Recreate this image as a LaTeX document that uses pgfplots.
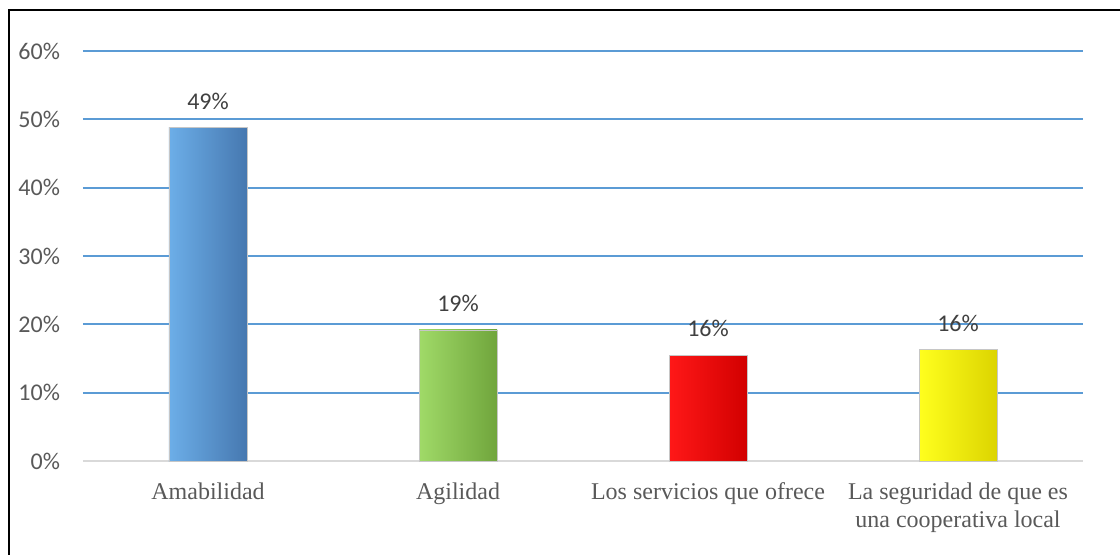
\documentclass[border=0pt]{standalone}
\usepackage{pgfplots}
\pgfplotsset{compat=1.18}
\usepackage{fontspec}
\setmainfont{Liberation Serif}
\newfontfamily\calib{Carlito}
\newfontfamily\tnr{Liberation Serif}
\definecolor{gridblue}{HTML}{5B9BD5}
\definecolor{ticktxt}{HTML}{595959}
\definecolor{lbltxt}{HTML}{404040}
\definecolor{baseg}{HTML}{D9D9D9}
\begin{document}
\begin{tikzpicture}
\begin{axis}[
  name=ax,
  scale only axis,
  width=500bp, height=205bp,
  xmin=-0.5, xmax=3.5,
  ymin=0, ymax=60,
  axis line style={draw=none},
  tick style={draw=none},
  major tick length=0pt,
  ytick={10,20,30,40,50,60},
  yticklabels={10\%,20\%,30\%,40\%,50\%,60\%},
  extra y ticks={0},
  extra y tick labels={0\%},
  extra y tick style={major grid style={draw=baseg,line width=1.1bp}},
  ymajorgrids,
  major grid style={draw=gridblue,line width=0.9bp},
  yticklabel style={font=\calib\fontsize{12bp}{14bp}\selectfont,text=ticktxt,xshift=-8bp},
  xtick={0,1,2,3},
  xticklabels={Amabilidad,Agilidad,Los servicios que ofrece,La seguridad de que es},
  xticklabel style={font=\tnr\fontsize{12bp}{14bp}\selectfont,text=ticktxt,anchor=north,yshift=-7.5bp},
  extra x ticks={3},
  extra x tick labels={una cooperativa local},
  extra x tick style={xticklabel style={yshift=-14bp}},
  point meta=explicit symbolic,
  nodes near coords,
  every node near coord/.append style={font=\calib\fontsize{12bp}{14bp}\selectfont,text=lbltxt,anchor=south,inner sep=0pt,yshift=9bp},
  clip=false,
]
\addplot[ybar, bar width=39bp, bar shift=0pt, draw=gray!45, line width=0.3bp,
  left color={rgb,255:red,108;green,174;blue,232}, right color={rgb,255:red,70;green,120;blue,176}]
  coordinates {(0,48.8) [49\%]};
\addplot[ybar, bar width=39bp, bar shift=0pt, draw=gray!45, line width=0.3bp,
  left color={rgb,255:red,160;green,218;blue,104}, right color={rgb,255:red,112;green,165;blue,60}]
  coordinates {(1,19.2) [19\%]};
\addplot[ybar, bar width=39bp, bar shift=0pt, draw=gray!45, line width=0.3bp,
  left color={rgb,255:red,255;green,24;blue,24}, right color={rgb,255:red,210;green,0;blue,0}]
  coordinates {(2,15.5) [16\%]};
\addplot[ybar, bar width=39bp, bar shift=0pt, draw=gray!45, line width=0.3bp,
  left color={rgb,255:red,255;green,255;blue,30}, right color={rgb,255:red,220;green,212;blue,0}]
  coordinates {(3,16.3) [16\%]};
\end{axis}
\path[use as bounding box] ([xshift=-41.5bp,yshift=-47bp]ax.south west) rectangle ([xshift=18.5bp,yshift=25.5bp]ax.north east);
\draw[line width=1bp,black] ([xshift=-37bp,yshift=-47bp]ax.south west) -- ([xshift=-37bp,yshift=20.5bp]ax.north west) -- ([xshift=18.5bp,yshift=20.5bp]ax.north east);
\end{tikzpicture}
\end{document}
